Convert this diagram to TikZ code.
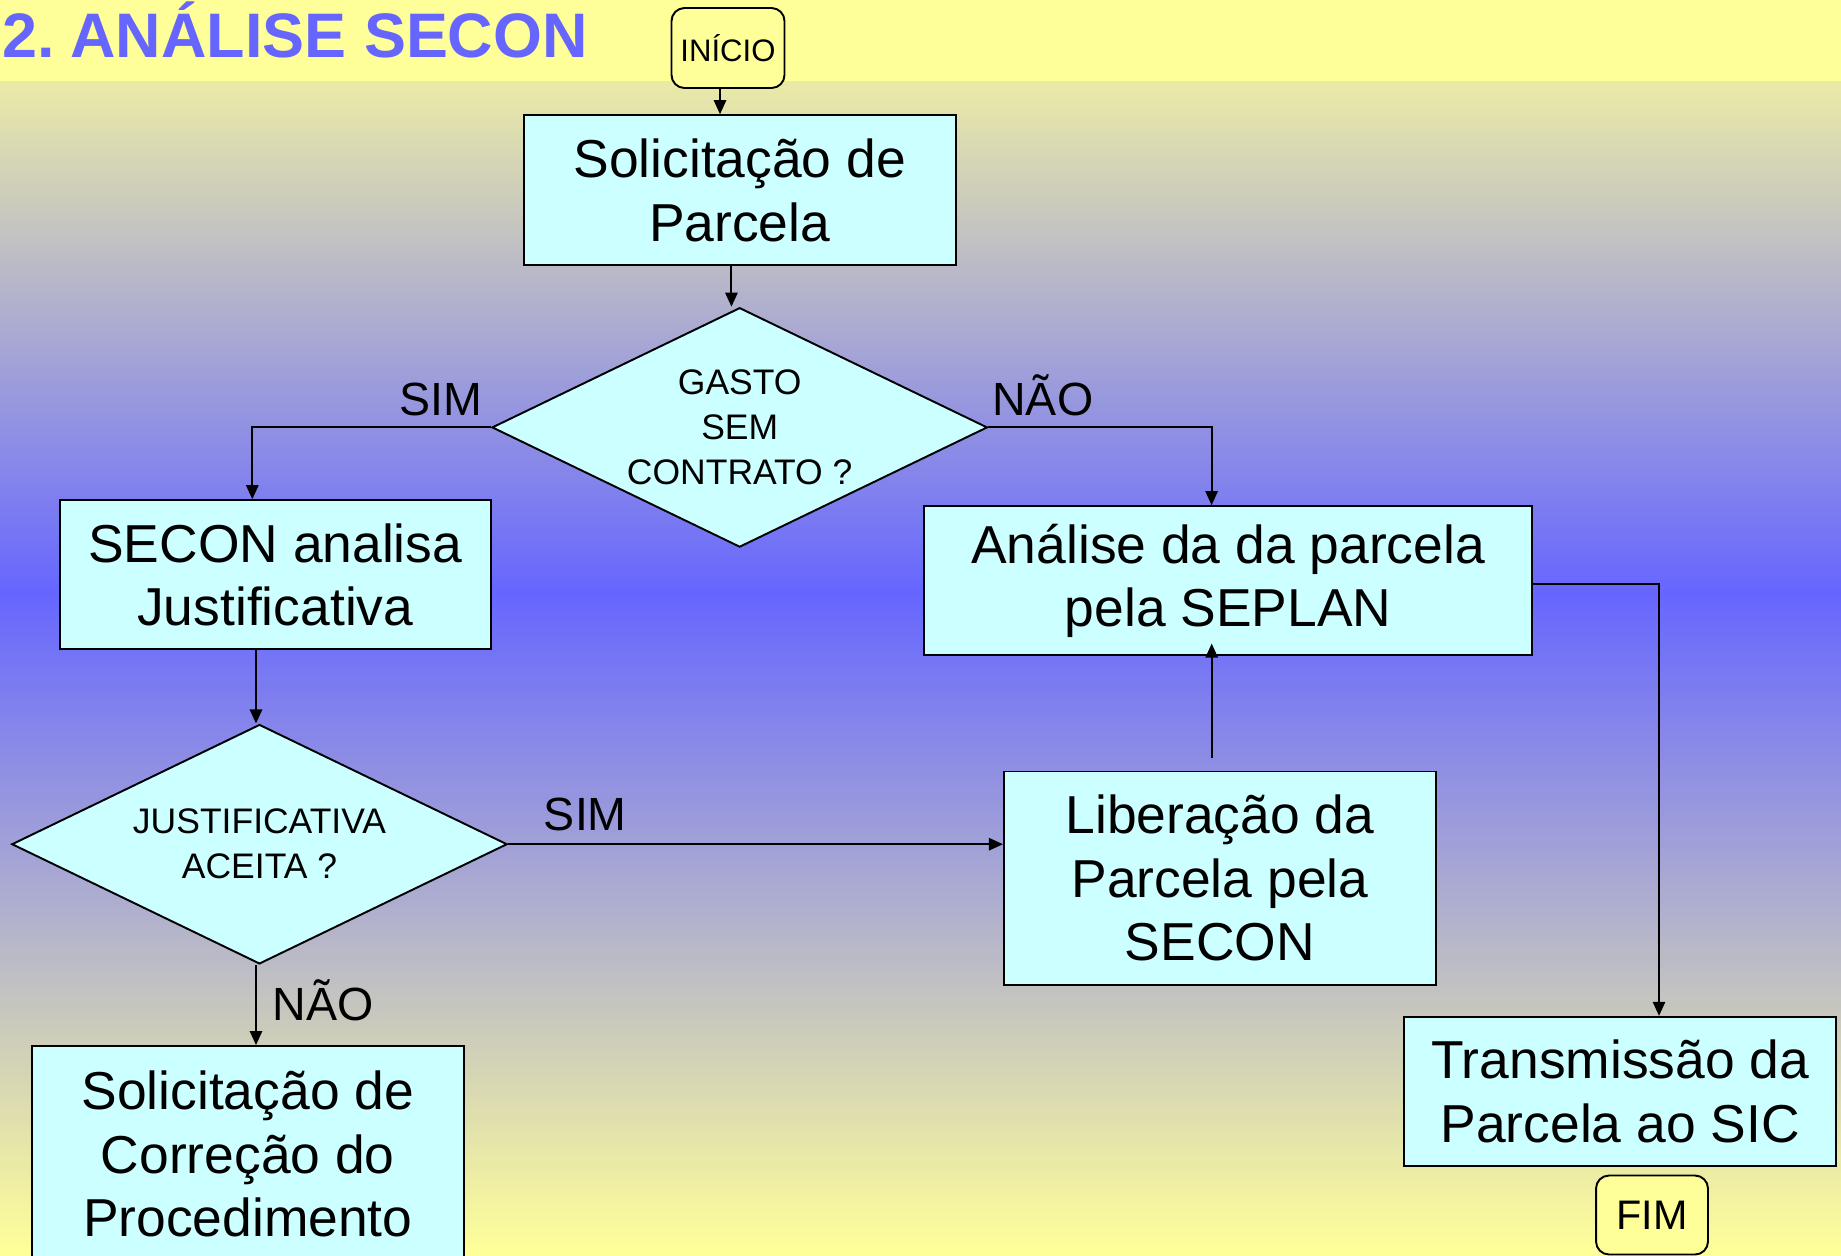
\documentclass[tikz,border=0pt]{standalone}
\usepackage{fontspec}
\setmainfont{Liberation Sans}
\usetikzlibrary{shapes.geometric,arrows.meta}
\definecolor{bandyellow}{RGB}{255,255,153}
\definecolor{bgblue}{RGB}{102,102,255}
\definecolor{boxcyan}{RGB}{204,255,255}
\definecolor{titleblue}{RGB}{102,102,255}
\begin{document}
\begin{tikzpicture}[x=0.02cm,y=-0.02cm,
  proc/.style={draw=black,line width=1.1pt,fill=boxcyan,align=center,inner sep=0pt,
    font=\fontsize{30.4}{36.1}\selectfont,text=black},
  decis/.style={draw=black,line width=1.1pt,fill=boxcyan,diamond,shape aspect=2.1,align=center,
    inner sep=0pt,minimum width=9.91cm,minimum height=4.79cm,font=\fontsize{20.2}{25.6}\selectfont},
  term/.style={draw=black,line width=1.1pt,fill=bandyellow,rounded corners=0.26cm,inner sep=0pt,
    minimum width=2.26cm,minimum height=1.6cm},
  lbl/.style={anchor=base west,inner sep=0pt,font=\fontsize{26.5}{30}\selectfont},
  arr/.style={line width=1.1pt,-{Triangle[length=8pt,width=7pt]}}]

\useasboundingbox (0,0) rectangle (1841,1255);
\clip (0,0) rectangle (1841,1255);
\foreach \i in {0,...,313} {
  \pgfmathsetmacro{\yy}{\i*4+2}
  \pgfmathsetmacro{\ta}{(\yy/593)*100}
  \pgfmathsetmacro{\tb}{max(0,((1255-\yy)/662)*100)}
  \pgfmathsetmacro{\t}{min(\ta,\tb)}
  \fill[bgblue!\t!bandyellow] (0,\i*4) rectangle (1841,\i*4+4.6);
}
\fill[bandyellow] (0,0) rectangle (1841,80.5);

\node[anchor=base west,inner sep=0pt,text=titleblue,font=\bfseries\fontsize{35.8}{40}\selectfont] (title) at (2,57) {2.\kern-0.12em{} ANÁLISE SECON};

\node[term,font=\fontsize{17.7}{20}\selectfont] (inicio) at (728,48) {INÍCIO};
\node[proc,minimum width=8.64cm,minimum height=3.0cm] (sol) at (739.7,190.2) {Solicitação de\\Parcela};
\node[decis] (d1) at (739.7,427.4) {GASTO\\SEM\\CONTRATO ?};
\node[proc,minimum width=8.62cm,minimum height=2.98cm] (secon) at (275.3,574.7) {SECON analisa\\Justificativa};
\node[proc,minimum width=12.16cm,minimum height=2.98cm] (analise) at (1228.1,580.6) {Análise da da parcela\\pela SEPLAN};
\node[decis] (d2) at (259.5,844.2) {JUSTIFICATIVA\\ACEITA ?};
\node[proc,minimum width=8.64cm,minimum height=4.27cm] (liber) at (1219.9,878.2) {Liberação da\\Parcela pela\\SECON};
\node[proc,minimum width=8.64cm,minimum height=4.32cm] (correc) at (247.8,1154) {Solicitação de\\Correção do\\Procedimento};
\node[proc,minimum width=8.64cm,minimum height=2.98cm] (transm) at (1620.2,1091.3) {Transmissão da\\Parcela ao SIC};
\node[term,minimum width=2.24cm,minimum height=1.58cm,font=\fontsize{23.5}{26}\selectfont] (fim) at (1652,1215) {FIM};

\node[lbl] (lsim1) at (399,415) {SIM};
\node[lbl] (lnao1) at (992,415) {NÃO};
\node[lbl] (lsim2) at (543.6,830) {SIM};
\node[lbl] (lnao2) at (272.4,1020) {NÃO};

\draw[arr] ([xshift=-0.16cm]inicio.south) -- ([xshift=-0.16cm]inicio.south |- sol.north);
\draw[arr] ([xshift=-0.165cm]sol.south) -- ([xshift=-0.165cm]sol.south |- d1.north);
\draw[arr] (d1.west) -| ([xshift=-0.46cm]secon.north);
\draw[arr] (d1.east) -| ([xshift=-0.33cm]analise.north);
\draw[arr] ([xshift=-0.386cm]secon.south) -- ([xshift=-0.386cm]secon.south |- d2.north);
\draw[arr] (d2.east) -- (d2.east -| liber.west);
\draw[arr] ([xshift=-0.164cm,yshift=0.25cm]liber.north) -- ([xshift=-0.164cm,yshift=0.25cm]liber.north |- analise.south);
\draw[arr] ([xshift=-0.07cm]d2.south) -- ([xshift=-0.07cm]d2.south |- correc.north);
\draw[arr] ([yshift=-0.06cm]analise.east) -| ([xshift=0.776cm]transm.north);
\end{tikzpicture}
\end{document}
